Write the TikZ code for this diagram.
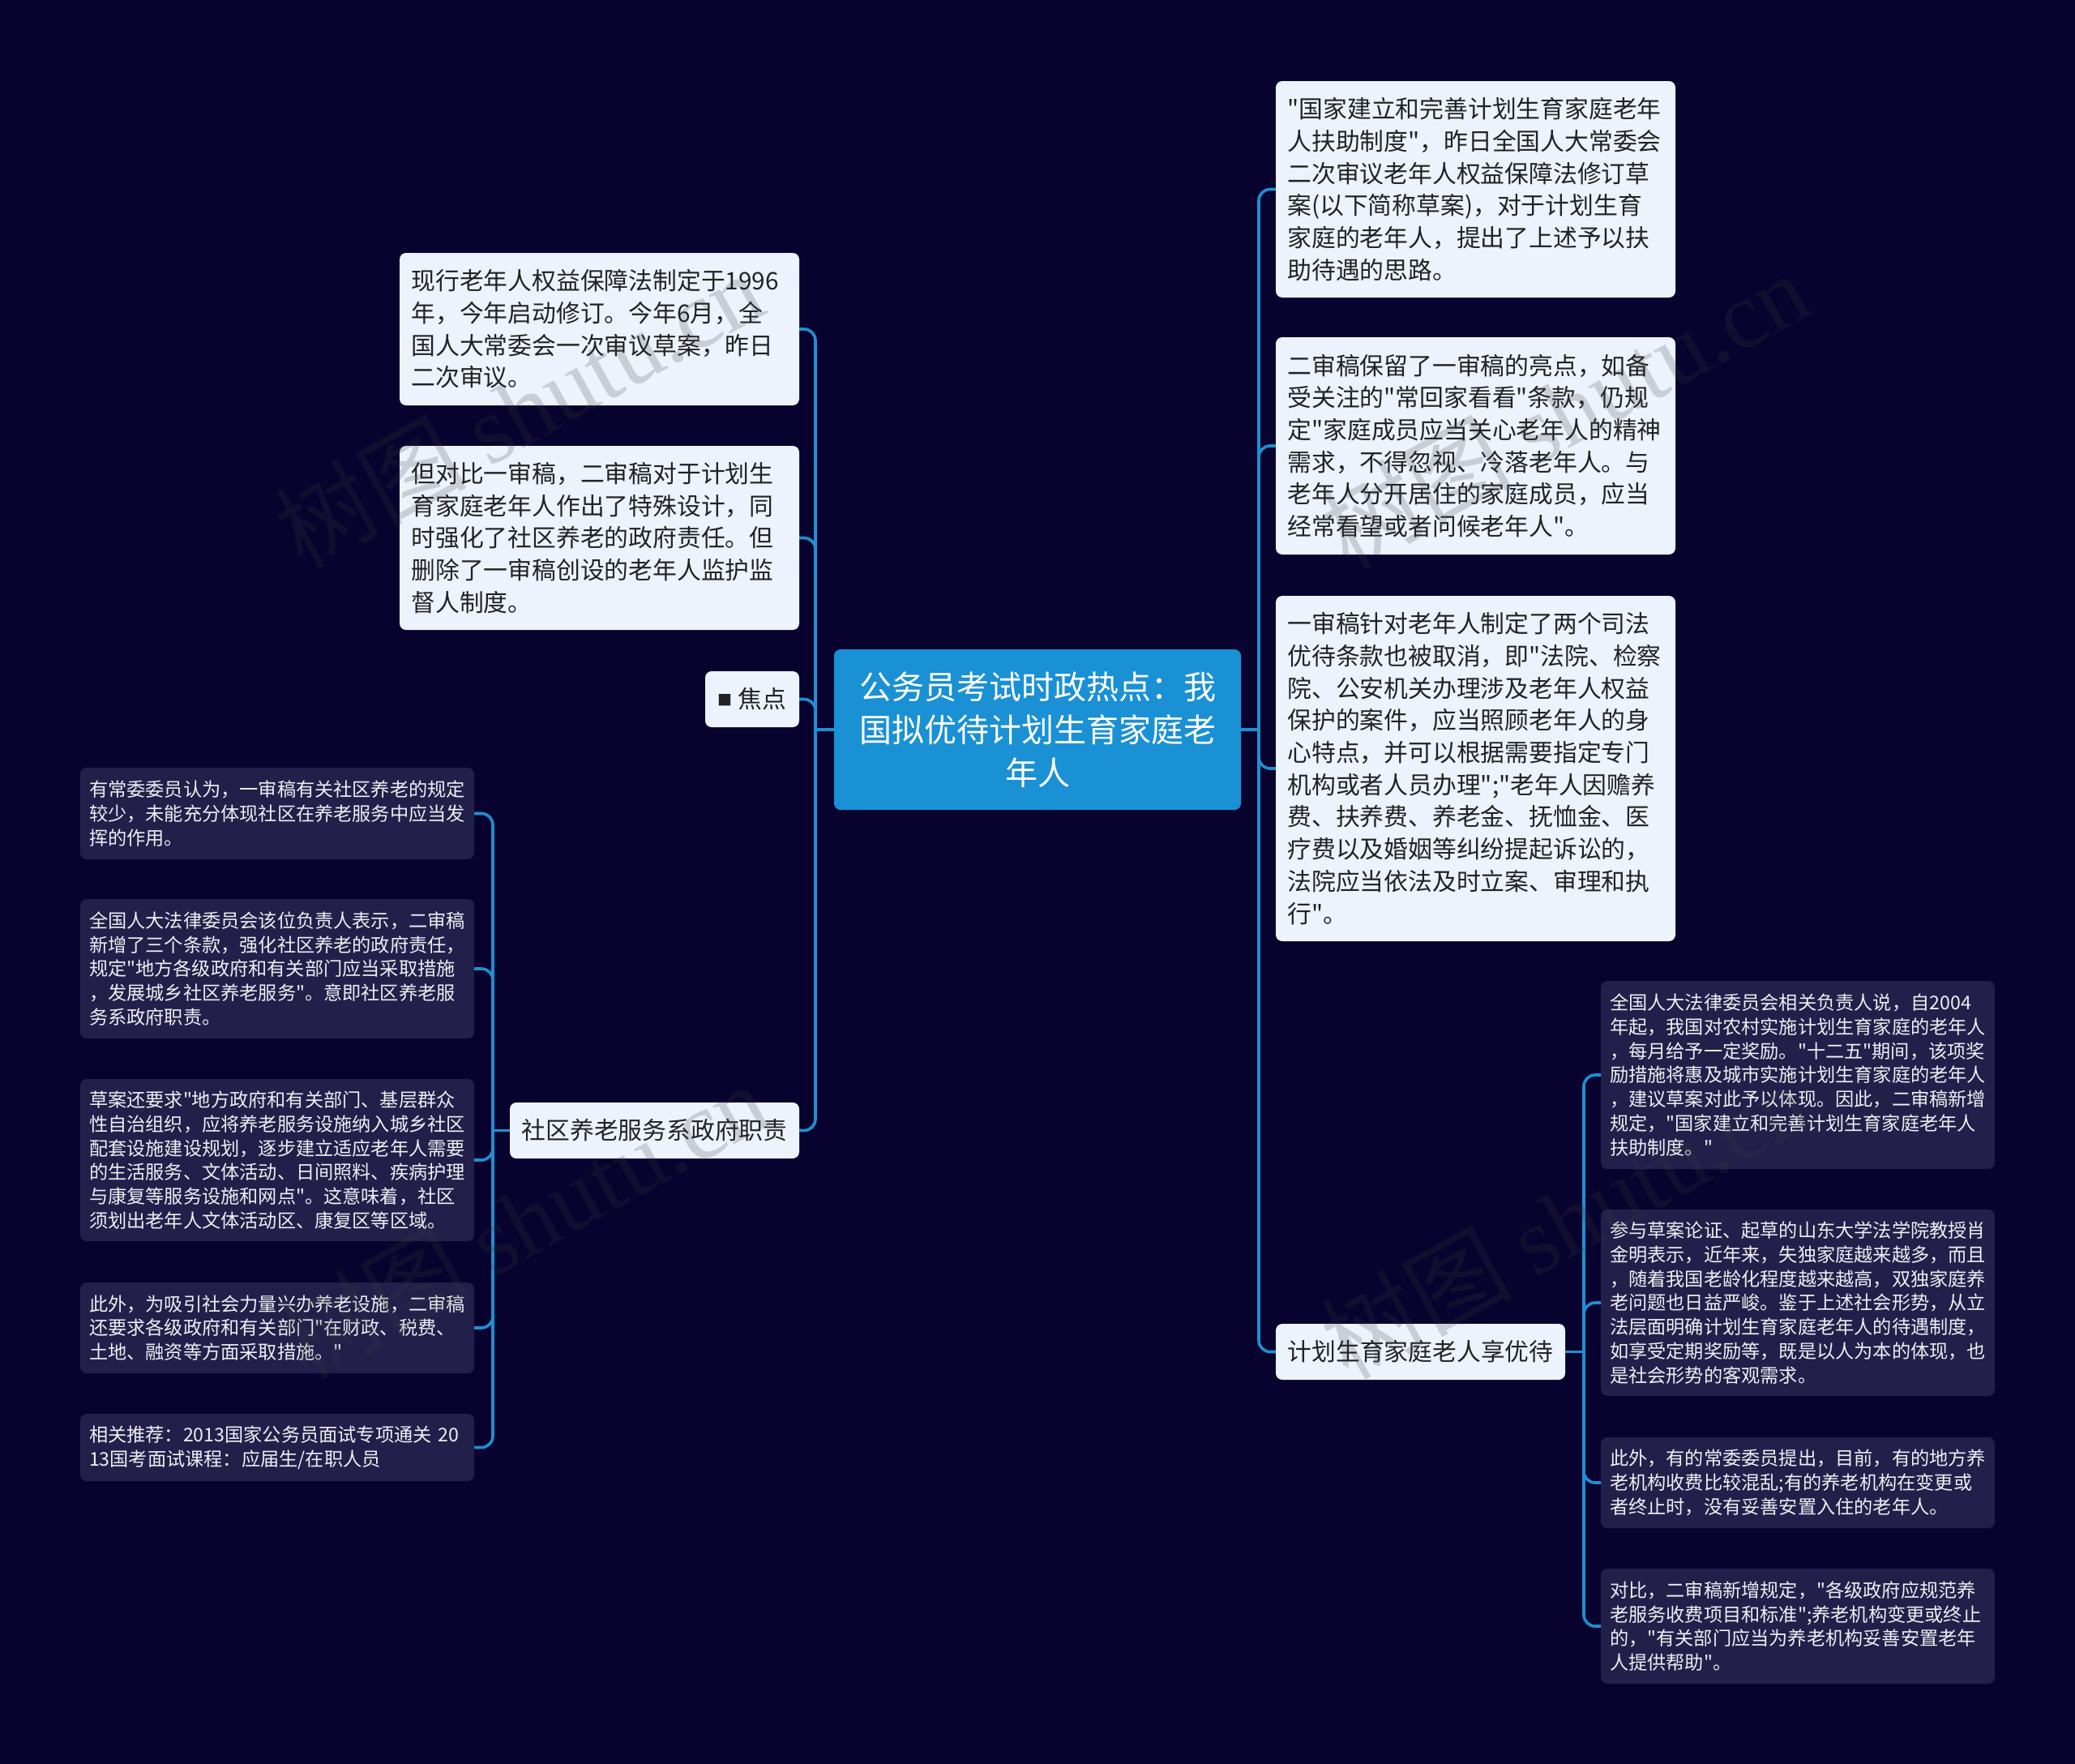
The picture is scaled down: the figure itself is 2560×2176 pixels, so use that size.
\documentclass[tikz,border=0pt]{standalone}
\usepackage{fontspec}
\newfontfamily\basecjk{Noto Sans CJK SC}
\newfontfamily\wmserif{Liberation Serif}
\definecolor{bgc}{HTML}{07032E}
\definecolor{lightc}{HTML}{EDF3FD}
\definecolor{darkc}{HTML}{22204A}
\definecolor{rootc}{HTML}{1A90D5}
\definecolor{linec}{HTML}{1F8FD2}
\definecolor{inkc}{HTML}{222222}
\definecolor{wmc}{HTML}{3C3C3C}
\tikzset{
  boxbase/.style={anchor=north west,rounded corners=8pt,align=left,inner ysep=0pt,outer sep=0pt},
  rootbox/.style={boxbase,fill=rootc,text=white,align=center,text width=502pt,inner xsep=0pt,minimum height=198pt,
    font=\basecjk\fontsize{40}{53}\selectfont},
  lightbox/.style={boxbase,fill=lightc,text=inkc,text width=464pt,inner xsep=14.5pt,
    font=\basecjk\fontsize{29.8}{39.7}\selectfont,execute at end node={\par\vskip-5pt}},
  topicbox/.style={boxbase,fill=lightc,text=inkc,align=center,inner xsep=0pt,minimum height=69pt,
    font=\basecjk\fontsize{29.8}{39.5}\selectfont},
  darkbox/.style={boxbase,fill=darkc,text=white!93!darkc,text width=464pt,inner xsep=11pt,
    font=\basecjk\fontsize{23.2}{29.8}\selectfont,execute at end node={\par\vskip-3pt}},
  conn/.style={draw=linec,line width=3.6pt},
  elbow/.style={conn,rounded corners=14pt},
  wmark/.style={text=wmc,text opacity=0.2,rotate=29,font=\basecjk\fontsize{118}{118}\selectfont}
}
\begin{document}
\begin{tikzpicture}[x=1pt,y=-1pt]
\useasboundingbox (0,0) rectangle (2560,2176);
\fill[bgc] (0,0) rectangle (2560,2176);

\coordinate (tl) at (1006,0);
\coordinate (tr) at (1553,0);
\coordinate (tsq) at (608,0);
\coordinate (tjh) at (1954,0);

\node[rootbox] (root) at (1029,801) {公务员考试时政热点：我\\国拟优待计划生育家庭老\\年人};

\node[lightbox,minimum height=188pt] (a1) at (493,312) {现行老年人权益保障法制定于1996\\年，今年启动修订。今年6月，全\\国人大常委会一次审议草案，昨日\\二次审议。};
\node[lightbox,minimum height=227pt] (a2) at (493,550) {但对比一审稿，二审稿对于计划生\\育家庭老年人作出了特殊设计，同\\时强化了社区养老的政府责任。但\\删除了一审稿创设的老年人监护监\\督人制度。};
\node[topicbox,text width=116pt] (a3) at (870,828) {{\fontsize{18}{18}\selectfont\raisebox{3pt}{■}}\hspace{7pt}焦点};
\node[topicbox,text width=357pt] (a4) at (629,1360) {社区养老服务系政府职责};

\node[darkbox,minimum height=113pt] (s1) at (99,947) {有常委委员认为，一审稿有关社区养老的规定\\较少，未能充分体现社区在养老服务中应当发\\挥的作用。};
\node[darkbox,minimum height=172pt] (s2) at (99,1109) {全国人大法律委员会该位负责人表示，二审稿\\新增了三个条款，强化社区养老的政府责任，\\规定"地方各级政府和有关部门应当采取措施\\，发展城乡社区养老服务"。意即社区养老服\\务系政府职责。};
\node[darkbox,minimum height=200pt] (s3) at (99,1331) {草案还要求"地方政府和有关部门、基层群众\\性自治组织，应将养老服务设施纳入城乡社区\\配套设施建设规划，逐步建立适应老年人需要\\的生活服务、文体活动、日间照料、疾病护理\\与康复等服务设施和网点"。这意味着，社区\\须划出老年人文体活动区、康复区等区域。};
\node[darkbox,minimum height=112pt] (s4) at (99,1582) {此外，为吸引社会力量兴办养老设施，二审稿\\还要求各级政府和有关部门"在财政、税费、\\土地、融资等方面采取措施。"};
\node[darkbox,minimum height=83pt] (s5) at (99,1744) {相关推荐：2013国家公务员面试专项通关~20\\13国考面试课程：应届生/在职人员};

\node[lightbox,minimum height=267pt] (b1) at (1574,100) {"国家建立和完善计划生育家庭老年\\人扶助制度"，昨日全国人大常委会\\二次审议老年人权益保障法修订草\\案(以下简称草案)，对于计划生育\\家庭的老年人，提出了上述予以扶\\助待遇的思路。};
\node[lightbox,minimum height=268pt] (b2) at (1574,416) {二审稿保留了一审稿的亮点，如备\\受关注的"常回家看看"条款，仍规\\定"家庭成员应当关心老年人的精神\\需求，不得忽视、冷落老年人。与\\老年人分开居住的家庭成员，应当\\经常看望或者问候老年人"。};
\node[lightbox,minimum height=426pt] (b3) at (1574,735) {一审稿针对老年人制定了两个司法\\优待条款也被取消，即"法院、检察\\院、公安机关办理涉及老年人权益\\保护的案件，应当照顾老年人的身\\心特点，并可以根据需要指定专门\\机构或者人员办理";"老年人因赡养\\费、扶养费、养老金、抚恤金、医\\疗费以及婚姻等纠纷提起诉讼的，\\法院应当依法及时立案、审理和执\\行"。};
\node[topicbox,text width=357pt] (b4) at (1574,1633) {计划生育家庭老人享优待};

\node[darkbox,minimum height=232pt] (j1) at (1975,1210) {全国人大法律委员会相关负责人说，自2004\\年起，我国对农村实施计划生育家庭的老年人\\，每月给予一定奖励。"十二五"期间，该项奖\\励措施将惠及城市实施计划生育家庭的老年人\\，建议草案对此予以体现。因此，二审稿新增\\规定，"国家建立和完善计划生育家庭老年人\\扶助制度。"};
\node[darkbox,minimum height=230pt] (j2) at (1975,1492) {参与草案论证、起草的山东大学法学院教授肖\\金明表示，近年来，失独家庭越来越多，而且\\，随着我国老龄化程度越来越高，双独家庭养\\老问题也日益严峻。鉴于上述社会形势，从立\\法层面明确计划生育家庭老年人的待遇制度，\\如享受定期奖励等，既是以人为本的体现，也\\是社会形势的客观需求。};
\node[darkbox,minimum height=112pt] (j3) at (1975,1773) {此外，有的常委委员提出，目前，有的地方养\\老机构收费比较混乱;有的养老机构在变更或\\者终止时，没有妥善安置入住的老年人。};
\node[darkbox,minimum height=142pt] (j4) at (1975,1935) {对比，二审稿新增规定，"各级政府应规范养\\老服务收费项目和标准";养老机构变更或终止\\的，"有关部门应当为养老机构妥善安置老年\\人提供帮助"。};

\draw[conn] (root.west) -- (tl|-root.west);
\draw[conn] (root.east) -- (tr|-root.east);
\draw[conn] (a4.west) -- (tsq|-a4.west);
\draw[conn] (b4.east) -- (tjh|-b4.east);
\foreach \n in {a1,a2,a3,a4} \draw[elbow] (tl|-root.west) -- (tl|-\n.east) -- (\n.east);
\foreach \n in {b1,b2,b3,b4} \draw[elbow] (tr|-root.east) -- (tr|-\n.west) -- (\n.west);
\foreach \n in {s1,s2,s3,s4,s5} \draw[elbow] (tsq|-a4.west) -- (tsq|-\n.east) -- (\n.east);
\foreach \n in {j1,j2,j3,j4} \draw[elbow] (tjh|-b4.east) -- (tjh|-\n.west) -- (\n.west);

\node[wmark] (wm1) at (640,505) {树图 {\wmserif shutu.cn}};
\node[wmark] (wm2) at (1930,505) {树图 {\wmserif shutu.cn}};
\node[wmark] (wm3) at (645,1505) {树图 {\wmserif shutu.cn}};
\node[wmark] (wm4) at (1930,1505) {树图 {\wmserif shutu.cn}};
\end{tikzpicture}
\end{document}
